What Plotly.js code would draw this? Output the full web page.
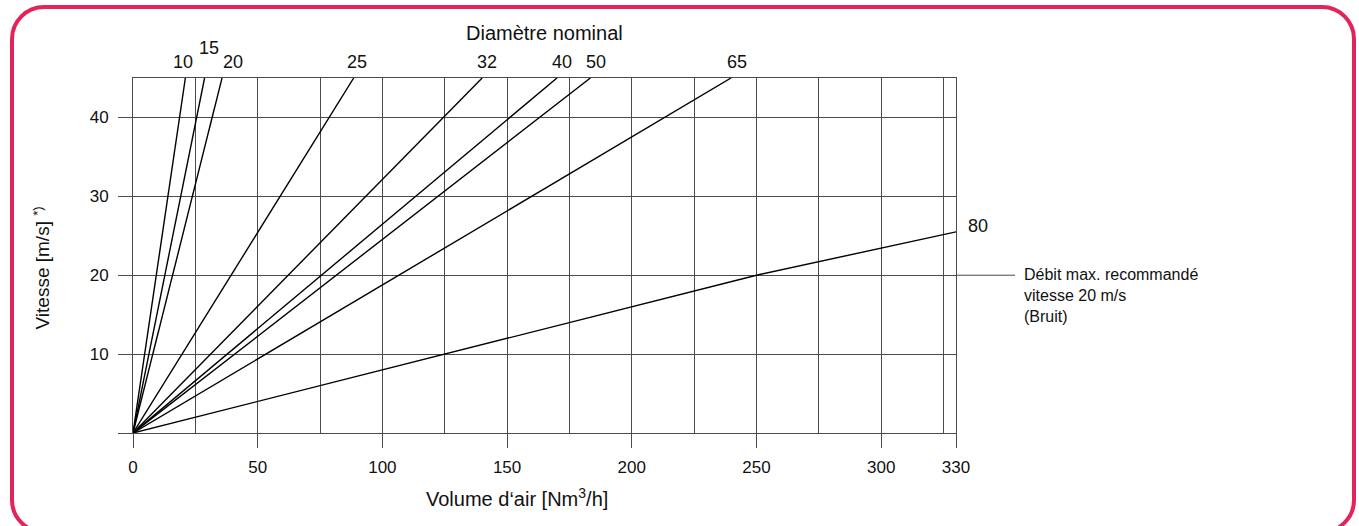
<!DOCTYPE html>
<html>
<head>
<meta charset="utf-8">
<script src="https://cdn.plot.ly/plotly-3.0.1.min.js"></script>
<style>
  html, body { margin:0; padding:0; background:#fff; }
  #wrap { position:relative; width:1359px; height:526px; overflow:hidden; }
  #chart { position:absolute; left:0; top:0; width:1359px; height:526px; }
  #frame { position:absolute; left:10px; top:5px; width:1346px; height:529px; box-sizing:border-box;
           border:4px solid #e3245a; border-radius:34px; pointer-events:none; }
</style>
</head>
<body>
<div id="wrap">
  <div id="chart"></div>
  <div id="frame"></div>
</div>
<script>
// ---- data ----
const diameters = ['10', '15', '20', '25', '32', '40', '50', '65', '80'];
const flowDN10 = [0, 21.0];   const velDN10 = [0, 45];
const flowDN15 = [0, 28.7];   const velDN15 = [0, 45];
const flowDN20 = [0, 35.7];   const velDN20 = [0, 45];
const flowDN25 = [0, 88.5];   const velDN25 = [0, 45];
const flowDN32 = [0, 140.0];  const velDN32 = [0, 45];
const flowDN40 = [0, 170.0];  const velDN40 = [0, 45];
const flowDN50 = [0, 183.4];  const velDN50 = [0, 45];
const flowDN65 = [0, 239.8];  const velDN65 = [0, 45];
const flowDN80 = [0, 125, 250, 330]; const velDN80 = [0, 10, 20, 25.5];
const xTickVals = [0, 50, 100, 150, 200, 250, 300, 330];
const yTickVals = [0, 10, 20, 30, 40];
const yTickText = ['', '10', '20', '30', '40'];
const maxVelocity = 20;
const noteLines = ['Débit max. recommandé', 'vitesse 20 m/s', '(Bruit)'];

const flows = [flowDN10, flowDN15, flowDN20, flowDN25, flowDN32, flowDN40, flowDN50, flowDN65, flowDN80];
const vels  = [velDN10, velDN15, velDN20, velDN25, velDN32, velDN40, velDN50, velDN65, velDN80];

const FONT = 'Liberation Sans, Arial, Helvetica, sans-serif';
const INK = '#111';
const GRID = '#4a4a4a';

const traces = diameters.map((d, i) => ({
  type: 'scatter', mode: 'lines', name: 'DN ' + d,
  x: flows[i], y: vels[i],
  line: { color: '#000', width: 1.4 },
  hoverinfo: 'skip', showlegend: false
}));

// label style offsets (pixels) for the diameter labels at top
const labelShift = { '10': [-2, 0], '15': [4, 14], '20': [11, 0], '25': [3, 0],
                     '32': [5, 0], '40': [5, 0], '50': [6, 0], '65': [6, 0] };

const annotations = [];
diameters.forEach((d, i) => {
  const fx = flows[i], vy = vels[i];
  const endX = fx[fx.length - 1], endY = vy[vy.length - 1];
  if (d === '80') {
    annotations.push({ x: endX, y: endY, xref: 'x', yref: 'y', text: d, showarrow: false,
      xanchor: 'left', yanchor: 'middle', xshift: 10, yshift: 6,
      font: { family: FONT, size: 18, color: INK } });
  } else {
    const s = labelShift[d];
    annotations.push({ x: endX, y: 1, xref: 'x', yref: 'paper', text: d, showarrow: false,
      xanchor: 'center', yanchor: 'middle', xshift: s[0], yshift: 16 + s[1],
      font: { family: FONT, size: 18, color: INK } });
  }
});
annotations.push({ x: 0.5, y: 1, xref: 'paper', yref: 'paper', text: 'Diamètre nominal',
  showarrow: false, xanchor: 'center', yanchor: 'middle', yshift: 45,
  font: { family: FONT, size: 20, color: INK } });
annotations.push({ x: 1.0802, y: maxVelocity, xref: 'paper', yref: 'y',
  text: noteLines.join('<br>'), showarrow: false, align: 'left',
  xanchor: 'left', yanchor: 'top', yshift: 11,
  font: { family: FONT, size: 16, color: INK } });
annotations.push({ x: 0.4666, y: 0, xref: 'paper', yref: 'paper',
  text: 'Volume d‘air [Nm<sup>3</sup>/h]', showarrow: false,
  xanchor: 'center', yanchor: 'middle', yshift: -64,
  font: { family: FONT, size: 20, color: INK } });
annotations.push({ x: 0, y: 0.5, xref: 'paper', yref: 'paper',
  text: 'Vitesse [m/s] <sup>*)</sup>', showarrow: false, textangle: -90,
  xanchor: 'center', yanchor: 'middle', xshift: -92, yshift: -13,
  font: { family: FONT, size: 19, color: INK } });

const layout = {
  width: 1359, height: 526,
  margin: { l: 133, r: 403, t: 78, b: 93 },
  paper_bgcolor: '#fff', plot_bgcolor: '#fff',
  showlegend: false,
  xaxis: {
    range: [0, 330], tickvals: xTickVals, ticktext: xTickVals.map(String),
    ticks: 'outside', ticklen: 14, tickwidth: 1, tickcolor: GRID,
    showgrid: true, gridcolor: GRID, gridwidth: 1,
    minor: { dtick: 25, tick0: 0, showgrid: true, gridcolor: GRID, gridwidth: 1, ticks: '' },
    showline: true, mirror: true, linecolor: GRID, linewidth: 1,
    zeroline: false, ticklabelstandoff: 5,
    tickfont: { family: FONT, size: 17, color: INK }
  },
  yaxis: {
    range: [0, 45], tickvals: yTickVals, ticktext: yTickText,
    ticks: 'outside', ticklen: 14, tickwidth: 1, tickcolor: GRID,
    showgrid: true, gridcolor: GRID, gridwidth: 1,
    showline: true, mirror: true, linecolor: GRID, linewidth: 1,
    zeroline: false, ticklabelstandoff: 6,
    tickfont: { family: FONT, size: 17, color: INK }
  },
  shapes: [{
    type: 'line', xref: 'paper', yref: 'y', x0: 1, x1: 1.0717,
    y0: maxVelocity, y1: maxVelocity, line: { color: GRID, width: 1 }
  }],
  annotations: annotations
};

Plotly.newPlot('chart', traces, layout, { displayModeBar: false, staticPlot: true });
</script>
</body>
</html>
